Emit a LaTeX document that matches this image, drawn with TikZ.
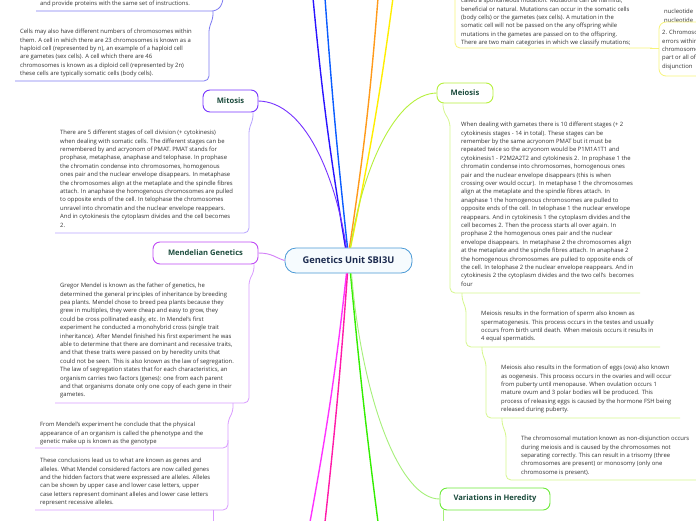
\documentclass[tikz,border=0pt]{standalone}
\usepackage{fontspec}
\setmainfont{Open Sans}
\usetikzlibrary{positioning,calc}
\definecolor{titlegreen}{HTML}{1B4B3C}
\definecolor{centertext}{HTML}{1C2B4F}
\definecolor{centerblue}{HTML}{4A9AD6}
\definecolor{centerfill}{HTML}{F6FBFE}
\definecolor{bodygray}{HTML}{333333}
\definecolor{mitosiscol}{HTML}{7733FF}
\definecolor{mitosislite}{HTML}{B9A6FF}
\definecolor{mendelcol}{HTML}{C04AF5}
\definecolor{mendellite}{HTML}{DA9CFF}
\definecolor{meiosiscol}{HTML}{B6F03C}
\definecolor{meiosislite}{HTML}{D6F78E}
\definecolor{varcol}{HTML}{6CEB3A}
\definecolor{varlite}{HTML}{A6F07A}
\definecolor{cellslite}{HTML}{7F7CF2}
\definecolor{mutlite}{HTML}{F7F47A}
\definecolor{blueA}{HTML}{2A14FF}
\definecolor{blueB}{HTML}{0A5CFF}
\definecolor{orangeA}{HTML}{FF9A1A}
\definecolor{yellowA}{HTML}{FFEE00}
\definecolor{magentaA}{HTML}{FF33FF}
\definecolor{magentaB}{HTML}{FF1AA8}
\definecolor{greenA}{HTML}{33EE00}

\begin{document}
\begin{tikzpicture}[x=1pt, y=-1pt,
  topic/.style={draw, rounded corners=7, line width=0.9pt, fill=white, text=titlegreen,
    font=\fontsize{7.6}{9}\selectfont\bfseries, minimum height=22},
  body/.style={anchor=north west, inner sep=0, align=left, text=bodygray,
    font=\fontsize{5.9}{8.4}\selectfont},
  branch/.style={line width=1.4pt},
  twig/.style={line width=0.8pt, rounded corners=5}]
  \useasboundingbox (0,0) rectangle (696,520);
  \clip (0,0) rectangle (696,520);
  \fill[white] (0,0) rectangle (696,520);

  % Central topic and main topics
  \node[draw=centerblue, line width=0.8pt, fill=centerfill, rounded corners=11,
    minimum width=127, minimum height=25, text=centertext,
    font=\fontsize{9.3}{10}\selectfont\bfseries] (unit) at (348.5,260.5) {Genetics Unit SBI3U};
  \node[topic, draw=mitosiscol, minimum width=55] (mitosis) at (230.5,101) {Mitosis};
  \node[topic, draw=mendelcol, minimum width=105] (mendel) at (205.5,253) {Mendelian Genetics};
  \node[topic, draw=meiosiscol, minimum width=56, minimum height=20] (meiosis) at (465,93) {Meiosis};
  \node[topic, draw=varcol, minimum width=110] (variations) at (495,499) {Variations in Heredity};

  % Branches leaving the picture
  \coordinate (upA) at (313,-2);
  \coordinate (upB) at (325,-2);
  \coordinate (upC) at (378,-2);
  \coordinate (upD) at (393,-2);
  \coordinate (downA) at (310,522);
  \coordinate (downB) at (325,522);
  \coordinate (downC) at (378,522);
  \draw[branch, blueA] ([xshift=-3pt]unit.north) to[bend left=2] (upA);
  \draw[branch, blueB] ([xshift=-1pt]unit.north) to[bend left=1] (upB);
  \draw[branch, orangeA] ([xshift=1pt]unit.north) to[bend right=2] (upC);
  \draw[branch, yellowA] ([xshift=2pt]unit.north) to[bend right=2] (upD);
  \draw[branch, magentaA] ([xshift=-2pt]unit.south) to[bend left=2] (downA);
  \draw[branch, magentaB] ([xshift=-1pt]unit.south) to[bend left=1] (downB);
  \draw[branch, greenA] ([xshift=2pt]unit.south) to[bend right=1] (downC);

  % Branches to named topics
  \draw[mitosiscol, line width=0.9pt] ([xshift=-2pt]unit.north) .. controls (335,175) and (305,102) .. (mitosis.east);
  \draw[meiosiscol, line width=0.9pt] ([xshift=2pt]unit.north) .. controls (362,170) and (395,94) .. (meiosis.west);
  \draw[varlite, line width=0.9pt] ([xshift=3pt]unit.south) .. controls (362,400) and (400,499) .. (variations.west);
  \draw[mendelcol!70, line width=0.9pt] (mendel.east) .. controls (272,253) and (276,258) .. (unit.west);

  % Cells (top left)
  \node[body] (cellsA) at (40,1) {and provide proteins with the same set of instructions.};
  \node[body] (cellsB) at (20,29) {Cells may also have different numbers of chromosomes within\\
    them. A cell in which there are 23 chromosomes is known as a\\
    haploid cell (represented by n), an example of a haploid cell\\
    are gametes (sex cells). A cell which there are 46\\
    chromosomes is known as a diploid cell (represented by 2n)\\
    these cells are typically somatic cells (body cells).};
  \draw[twig, cellslite] (36,11) -- (217,11) -- (223,3) -- (223,-2);
  \draw[twig, cellslite] (213,11) -- (213,19) -- (209,27) -- (209,81) -- (15,81);

  % Mitosis
  \node[body] (mitosisTxt) at (60,130) {There are 5 different stages of cell division (+ cytokinesis)\\
    when dealing with somatic cells. The different stages can be\\
    remembered by and acryonom of PMAT. PMAT stands for\\
    prophase, metaphase, anaphase and telophase. In prophase\\
    the chromatin condense into chromosomes, homogenous\\
    ones pair and the nuclear envelope disappears. In metaphase\\
    the chromosomes align at the metaplate and the spindle fibres\\
    attach. In anaphase the homogenous chromosomes are pulled\\
    to opposite ends of the cell. In telophase the chromosomes\\
    unravel into chromatin and the nuclear envelope reappears.\\
    And in cytokinesis the cytoplasm divides and the cell becomes\\
    2.};
  \draw[twig, mitosislite] (mitosis.south -| 253,0) -- (253,120) -- (249,128) -- (249,233) -- (55,233);

  % Mendelian Genetics
  \node[body] (mendelA) at (60,283) {Gregor Mendel is known as the father of genetics, he\\
    determined the general principles of inheritance by breeding\\
    pea plants. Mendel chose to breed pea plants because they\\
    grew in multiples, they were cheap and easy to grow, they\\
    could be cross pollinated easily, etc. In Mendel's first\\
    experiment he conducted a monohybrid cross (single trait\\
    inheritance). After Mendel finished his first experiment he was\\
    able to determine that there are dominant and recessive traits,\\
    and that these traits were passed on by heredity units that\\
    could not be seen. This is also known as the law of segregation.\\
    The law of segregation states that for each characteristics, an\\
    organism carries two factors (genes): one from each parent\\
    and that organisms donate only one copy of each gene in their\\
    gametes.};
  \node[body] (mendelB) at (40,422) {From Mendel's experiment he conclude that the physical\\
    appearance of an organism is called the phenotype and the\\
    genetic make up is known as the genotype};
  \node[body] (mendelC) at (40,458) {These conclusions lead us to what are known as genes and\\
    alleles. What Mendel considered factors are now called genes\\
    and the hidden factors that were expressed are alleles. Alleles\\
    can be shown by upper case and lower case letters, upper\\
    case letters represent dominant alleles and lower case letters\\
    represent recessive alleles.};
  \draw[twig, mendellite] (mendel.south -| 254,0) -- (254,272) -- (249,280) -- (249,403) -- (55,403);
  \draw[twig, mendellite] (233,403) -- (233,412) -- (228,420) -- (228,448) -- (35,448);
  \draw[twig, mendellite] (228,440) -- (228,510) -- (35,510);
  \draw[mendellite, line width=0.8pt] (213,510) -- (213,522);

  % Mutations (top right)
  \node[body] (mutTxt) at (461,-2) {called a spontaneous mutation. Mutations can be harmful,\\
    beneficial or natural. Mutations can occur in the somatic cells\\
    (body cells) or the gametes (sex cells). A mutation in the\\
    somatic cell will not be passed on the any offspring while\\
    mutations in the gametes are passed on to the offspring.\\
    There are two main categories in which we classify mutations;};
  \node[body] (geneTxt) at (664,9) {nucleotide\\ nucleotide};
  \node[body] (chromoTxt) at (662,30) {2. Chromosomal\\ errors within\\ chromosomes\\ part or all of\\ disjunction};
  \draw[twig, mutlite] (455,-2) -- (455,48) -- (652,48);
  \draw[twig, mutlite, rounded corners=7] (720,22) -- (659,22) -- (659,76) -- (720,76);
  \draw[mutlite, line width=0.8pt] (650,48) -- (659,48);

  % Meiosis
  \node[body] (meiosisA) at (461,122) {When dealing with gametes there is 10 different stages (+ 2\\
    cytokinesis stages - 14 in total). These stages can be\\
    remember by the same acryonom PMAT but it must be\\
    repeated twice so the acryonom would be P1M1A1T1 and\\
    cytokinesis1 - P2M2A2T2 and cytokinesis 2.\ \ In prophase 1 the\\
    chromatin condense into chromosomes, homogenous ones\\
    pair and the nuclear envelope disappears (this is when\\
    crossing over would occur).\ \ In metaphase 1 the chromosomes\\
    align at the metaplate and the spindle fibres attach. In\\
    anaphase 1 the homogenous chromosomes are pulled to\\
    opposite ends of the cell. In telophase 1 the nuclear envelope\\
    reappears. And in cytokinesis 1 the cytoplasm divides and the\\
    cell becomes 2. Then the process starts all over again. In\\
    prophase 2 the homogenous ones pair and the nuclear\\
    envelope disappears.\ \ In metaphase 2 the chromosomes align\\
    at the metaplate and the spindle fibres attach. In anaphase 2\\
    the homogenous chromosomes are pulled to opposite ends of\\
    the cell. In telophase 2 the nuclear envelope reappears. And in\\
    cytokinesis 2 the cytoplasm divides and the two cell's\ \ becomes\\
    four};
  \node[body] (meiosisB) at (481,311) {Meiosis results in the formation of sperm also known as\\
    spermatogenesis. This process occurs in the testes and usually\\
    occurs from birth until death. When meiosis occurs it results in\\
    4 equal spermatids.};
  \node[body] (meiosisC) at (501,365) {Meiosis also results in the formation of eggs (ova) also known\\
    as oogenesis. This process occurs in the ovaries and will occur\\
    from puberty until menopause. When ovulation occurs 1\\
    mature ovum and 3 polar bodies will be produced. This\\
    process of releasing eggs is caused by the hormone FSH being\\
    released during puberty.};
  \node[body] (meiosisD) at (521,436) {The chromosomal mutation known as non-disjunction occurs\\
    during meiosis and is caused by the chromosomes not\\
    separating correctly. This can result in a trisomy (three\\
    chromosomes are present) or monosomy (only one\\
    chromosome is present).};
  \draw[twig, meiosislite] (meiosis.south -| 443,0) -- (443,110) -- (450,122) -- (450,293) -- (640,293);
  \draw[twig, meiosislite] (462,293) -- (462,300) -- (466,308) -- (466,347) -- (660,347);
  \draw[twig, meiosislite] (482,347) -- (482,354) -- (486,362) -- (486,418) -- (680,418);
  \draw[twig, meiosislite] (502,418) -- (502,425) -- (506,433) -- (506,480) -- (698,480);

  % Variations in Heredity
  \draw[varlite, line width=0.8pt] (variations.south -| 443,0) -- (443,522);
\end{tikzpicture}
\end{document}
